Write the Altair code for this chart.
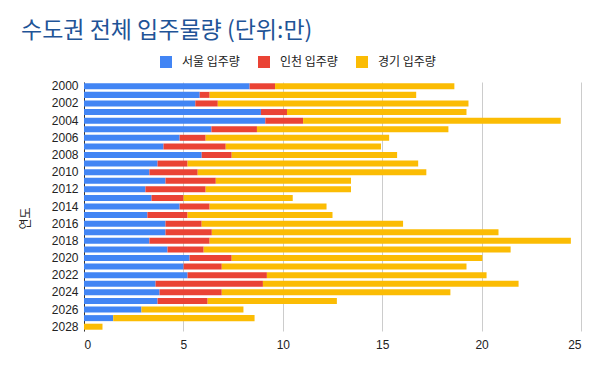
import altair as alt
import pandas as pd

years = ["2000", "2001", "2002", "2003", "2004", "2005", "2006", "2007", "2008", "2009",
         "2010", "2011", "2012", "2013", "2014", "2015", "2016", "2017", "2018", "2019",
         "2020", "2021", "2022", "2023", "2024", "2025", "2026", "2027", "2028"]
seoul = [8.33, 5.82, 5.60, 8.90, 9.12, 6.41, 4.81, 4.00, 5.92, 3.70,
         3.29, 4.10, 3.09, 3.40, 4.81, 3.19, 4.10, 4.10, 3.29, 4.20,
         5.31, 5.01, 5.21, 3.60, 3.80, 3.70, 2.89, 1.47, 0.0]
incheon = [1.28, 0.50, 1.13, 1.31, 1.90, 2.29, 1.31, 3.13, 1.51, 1.51,
           2.43, 2.53, 3.03, 1.61, 1.51, 2.02, 1.82, 2.33, 3.03, 1.82,
           2.12, 1.92, 3.99, 5.40, 3.13, 2.52, 0.0, 0.0, 0.0]
gyeonggi = [9.02, 10.39, 12.61, 9.03, 12.96, 9.63, 9.23, 7.81, 8.32, 11.60,
            11.50, 6.80, 7.31, 5.49, 5.88, 7.29, 10.13, 14.42, 18.17, 15.44,
            12.61, 12.31, 11.05, 12.86, 11.50, 6.50, 5.13, 7.11, 0.93]
series = ["서울 입주량", "인천 입주량", "경기 입주량"]
colors = ["#4285F4", "#EA4335", "#FBBC04"]
year_labels = ["2000", "2002", "2004", "2006", "2008", "2010", "2012", "2014",
               "2016", "2018", "2020", "2022", "2024", "2026", "2028"]
x_ticks = [0, 5, 10, 15, 20, 25]

rows = []
for si, (name, vals) in enumerate(zip(series, [seoul, incheon, gyeonggi])):
    for y, v in zip(years, vals):
        rows.append({"연도": y, "series": name, "value": v, "idx": si})
df = pd.DataFrame(rows)

LAT = "Liberation Sans, Noto Sans CJK KR"
KR = "Noto Sans CJK KR"

chart = alt.Chart(df).mark_bar().encode(
    y=alt.Y("연도:O", sort=years,
            scale=alt.Scale(paddingInner=0.3, paddingOuter=0.15),
            axis=alt.Axis(values=year_labels, ticks=False, domain=True,
                          domainColor="#333333", domainWidth=1,
                          labelFont=LAT, labelFontSize=12, labelColor="#222222",
                          labelPadding=6, title="연도", titleFont=KR,
                          titleFontSize=12, titleFontWeight="normal",
                          titleColor="#222222", titleAngle=270,
                          titleAlign="center", titleBaseline="middle",
                          titleX=-59, titleY=136, grid=False)),
    x=alt.X("value:Q", stack="zero",
            scale=alt.Scale(domain=[0, 25], nice=False),
            axis=alt.Axis(values=x_ticks, ticks=False, tickSize=0, domain=False,
                          grid=True, gridColor="#cccccc", gridWidth=1,
                          labelFont=LAT, labelFontSize=12, labelColor="#222222",
                          labelPadding=8, title=None)),
    color=alt.Color("series:N",
                    scale=alt.Scale(domain=series, range=colors),
                    legend=alt.Legend(orient="none", legendX=76, legendY=-26,
                                      direction="horizontal", title=None,
                                      symbolType="square", symbolSize=144,
                                      symbolStrokeWidth=0,
                                      labelFont=KR, labelFontSize=12,
                                      labelColor="#222222", labelOffset=10,
                                      columnPadding=18)),
    order=alt.Order("idx:Q"),
).properties(
    width=497,
    height=249,
    title=alt.TitleParams("수도권 전체 입주물량 (단위:만)", anchor="start",
                          frame="group", dx=-63, dy=-9, fontSize=23, font=KR,
                          fontWeight="normal", color="#1f5497"),
    autosize=alt.AutoSizeParams(type="none"),
    padding={"left": 76, "top": 74, "right": 10, "bottom": 22},
).configure_view(stroke=None)

chart.save("out.html", embed_options={"renderer": "svg", "actions": False})
